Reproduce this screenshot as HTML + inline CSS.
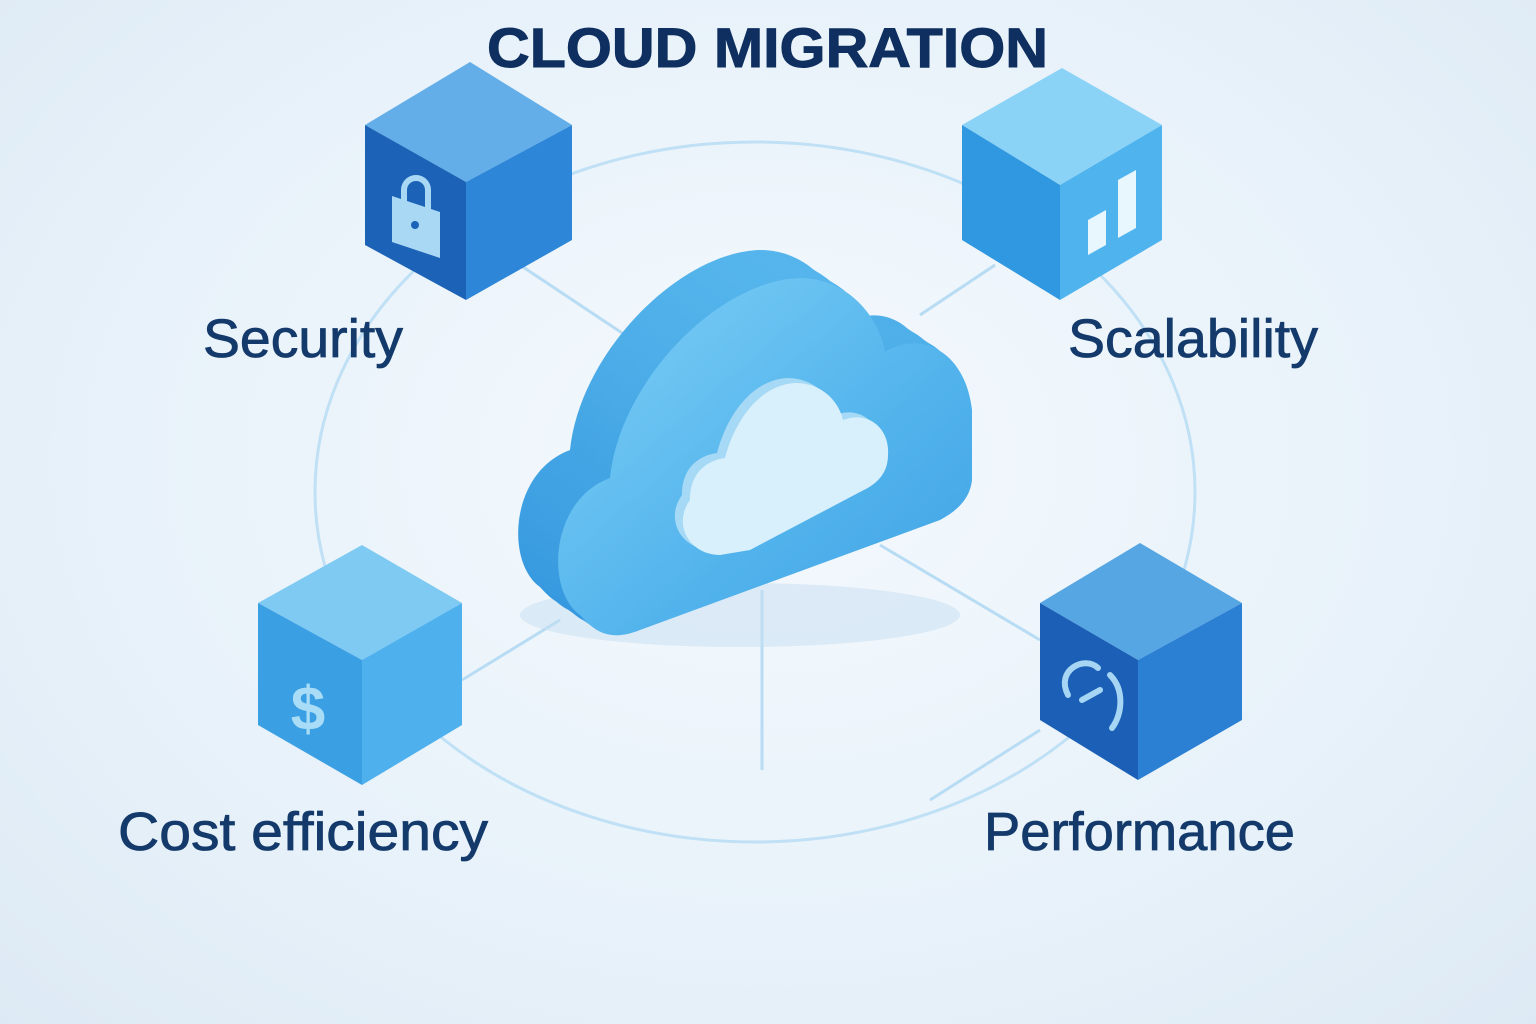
<!DOCTYPE html>
<html><head><meta charset="utf-8"><style>
html,body{margin:0;padding:0;width:1536px;height:1024px;overflow:hidden}
body{background:radial-gradient(ellipse at 50% 45%,#f4f9fd 0%,#e8f2fa 60%,#dde9f4 100%);font-family:"Liberation Sans",sans-serif}
svg{position:absolute;left:0;top:0}
</style></head><body>
<svg width="1536" height="1024" viewBox="0 0 1536 1024">
<defs>
<linearGradient id="cf" x1="0" y1="0" x2="1" y2="1"><stop offset="0" stop-color="#7fd0f6"/><stop offset="0.6" stop-color="#52b3ec"/><stop offset="1" stop-color="#3fa2e4"/></linearGradient>
<linearGradient id="cb" x1="0" y1="0" x2="0" y2="1"><stop offset="0" stop-color="#55b5ec"/><stop offset="1" stop-color="#3597de"/></linearGradient>
<path id="cloud" d="M580,615 C545,590 550,500 610,478 C620,380 720,280 800,278 C850,278 880,320 885,352 C920,330 965,350 972,410 L972,480 C970,500 955,512 940,520 L640,630 C610,642 595,632 580,615 Z"/>
</defs>
<ellipse cx="755" cy="492" rx="440" ry="350" fill="none" stroke="#bfe0f5" stroke-width="3"/>
<g stroke="#b8dcf4" stroke-width="3" fill="none">
<line x1="520" y1="265" x2="640" y2="345"/>
<line x1="995" y1="265" x2="920" y2="315"/>
<line x1="462" y1="680" x2="560" y2="620"/>
<line x1="880" y1="545" x2="1040" y2="640"/>
<line x1="762" y1="590" x2="762" y2="770"/>
<line x1="1040" y1="730" x2="930" y2="800"/>
</g>
<ellipse cx="740" cy="615" rx="220" ry="32" fill="#c6ddef" opacity="0.5"/>
<g fill="url(#cb)">
<use href="#cloud" transform="translate(-40,-28)"/>
<use href="#cloud" transform="translate(-32,-22)"/>
<use href="#cloud" transform="translate(-24,-17)"/>
<use href="#cloud" transform="translate(-16,-11)"/>
<use href="#cloud" transform="translate(-8,-6)"/>
</g>
<use href="#cloud" fill="url(#cf)"/>
<path d="M720,555 C690,555 672,525 690,500 C690,470 710,460 725,458 C735,420 760,385 795,383 C825,383 840,405 843,420 C870,410 890,430 888,455 C888,475 875,485 860,492 L750,550 Z" fill="#a6d9f5" transform="translate(-8,-5)"/>
<path d="M720,555 C690,555 672,525 690,500 C690,470 710,460 725,458 C735,420 760,385 795,383 C825,383 840,405 843,420 C870,410 890,430 888,455 C888,475 875,485 860,492 L750,550 Z" fill="#d8f0fc"/>
<polygon points="365,125 470,62 572,125 466,182" fill="#63aee8"/>
<polygon points="365,125 466,182 466,300 365,245" fill="#1c62b6"/>
<polygon points="466,182 572,125 572,240 466,300" fill="#2d86d8"/>
<path d="M404,204 v-14 a12,12 0 0 1 24,0 v22" fill="none" stroke="#a9d8f5" stroke-width="6"/>
<polygon points="392,196 440,212 440,258 392,242" fill="#a9d8f5"/>
<circle cx="415" cy="225" r="4" fill="#1c62b6"/>
<polygon points="962,125 1062,68 1162,125 1060,185" fill="#8ad3f7"/>
<polygon points="962,125 1060,185 1060,300 962,240" fill="#2f98e0"/>
<polygon points="1060,185 1162,125 1162,240 1060,300" fill="#4fb3ee"/>
<polygon points="1088,220 1106,210 1106,245 1088,255" fill="#e8f6fd"/>
<polygon points="1118,180 1136,170 1136,228 1118,238" fill="#e8f6fd"/>
<polygon points="258,603 362,545 462,603 362,660" fill="#7fcaf3"/>
<polygon points="258,603 362,660 362,785 258,725" fill="#3a9fe3"/>
<polygon points="362,660 462,603 462,725 362,785" fill="#4eb0ec"/>
<text x="308" y="730" font-size="62" font-weight="bold" fill="#a9dcf6" text-anchor="middle">$</text>
<polygon points="1040,603 1140,543 1242,603 1138,660" fill="#56a6e3"/>
<polygon points="1040,603 1138,660 1138,780 1040,720" fill="#1b5fb6"/>
<polygon points="1138,660 1242,603 1242,720 1138,780" fill="#2b80d4"/>
<path d="M1068,695 C1055,670 1085,655 1098,668 M1110,675 C1125,690 1122,715 1112,728 M1082,700 L1100,690" fill="none" stroke="#a6d6f4" stroke-width="6" stroke-linecap="round"/>
<text x="487" y="67" font-size="56" font-weight="bold" fill="#0e2f5f" stroke="#0e2f5f" stroke-width="1" textLength="561" lengthAdjust="spacingAndGlyphs">CLOUD MIGRATION</text>
<g font-size="54" fill="#143a6b" stroke="#143a6b" stroke-width="0.8" lengthAdjust="spacingAndGlyphs">
<text x="203" y="357" textLength="200" lengthAdjust="spacingAndGlyphs">Security</text>
<text x="1068" y="357" textLength="250" lengthAdjust="spacingAndGlyphs">Scalability</text>
<text x="118" y="850" textLength="370" lengthAdjust="spacingAndGlyphs">Cost efficiency</text>
<text x="984" y="850" textLength="311" lengthAdjust="spacingAndGlyphs">Performance</text>
</g>
</svg>
</body></html>
